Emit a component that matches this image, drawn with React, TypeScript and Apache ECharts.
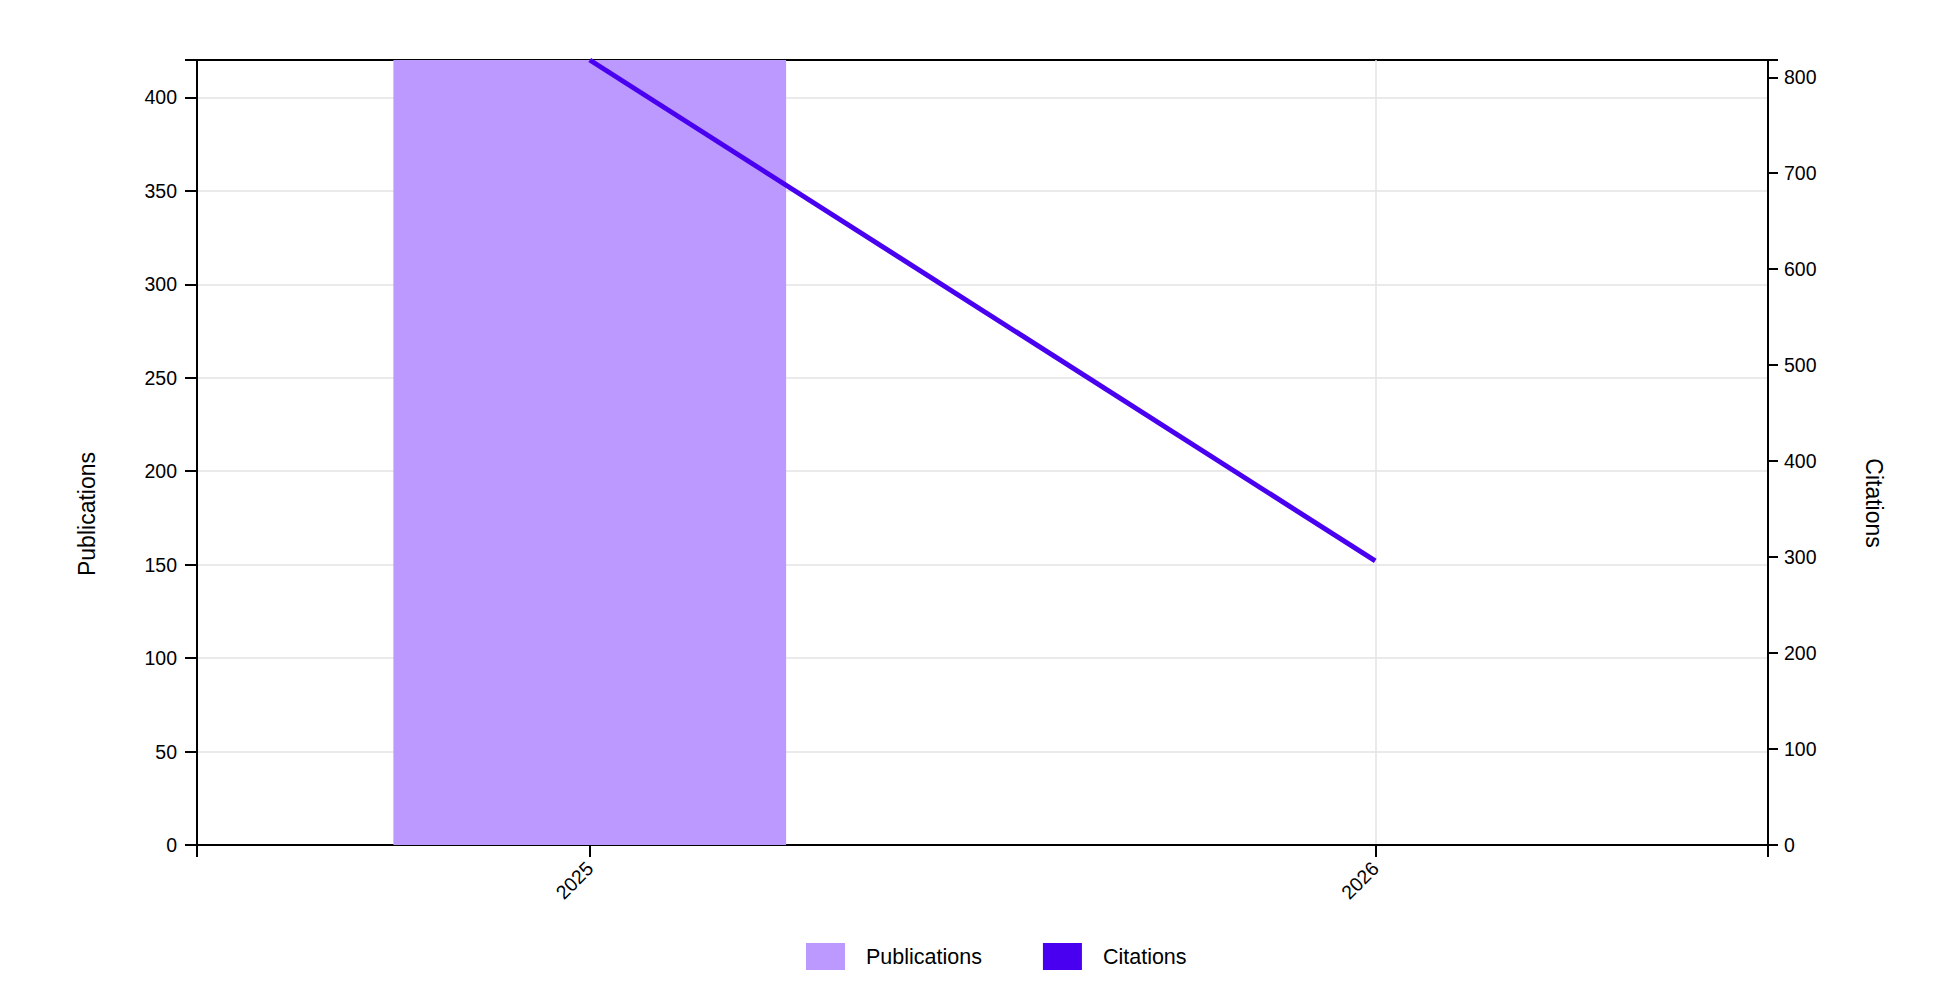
import React, { useEffect, useRef } from "react";
import * as echarts from "echarts";

const years = ["2025", "2026"];
const publications = [420, 0];
const citations = [818, 296];
const pubAxisMax = 420;
const citAxisMax = 818;
const helperSlots = ["", "", "", "", ""];

const PUB_COLOR = "#BB99FF";
const CIT_COLOR = "#4A00F0";
const FONT = "Liberation Sans, Arial, sans-serif";

export default function App() {
  const ref = useRef<HTMLDivElement>(null);
  useEffect(() => {
    if (!ref.current) return;
    const chart = echarts.init(ref.current, undefined, { renderer: "svg" });
    chart.setOption({
      animation: false,
      backgroundColor: "#fff",
      textStyle: { fontFamily: FONT },
      grid: {
        left: 197,
        right: 174,
        top: 60,
        bottom: 137,
        show: true,
        borderColor: "#000",
        borderWidth: 2,
        backgroundColor: "transparent",
      },
      legend: {
        left: 806,
        top: 943,
        padding: 0,
        icon: "rect",
        itemWidth: 39,
        itemHeight: 27,
        itemGap: 61,
        textStyle: { fontSize: 21.5, color: "#000", fontFamily: FONT, padding: [0, 0, 0, 16] },
        data: ["Publications", "Citations"],
      },
      xAxis: [
        {
          type: "category",
          data: years,
          boundaryGap: true,
          axisLine: { show: true, lineStyle: { color: "#000", width: 2 } },
          axisTick: { show: true, alignWithLabel: true, length: 12, lineStyle: { color: "#000", width: 2 } },
          axisLabel: { rotate: 45, margin: 20, fontSize: 19.5, color: "#000", fontFamily: FONT },
          splitLine: { show: false },
        },
        {
          type: "category",
          data: helperSlots,
          boundaryGap: false,
          position: "bottom",
          axisLine: { show: false },
          axisLabel: { show: false },
          axisTick: {
            show: true,
            length: 12,
            interval: (i: number) => i === 0 || i === 4,
            lineStyle: { color: "#000", width: 2 },
          },
          splitLine: {
            show: true,
            interval: (i: number) => i === 1 || i === 3,
            lineStyle: { color: "#e3e3e3", width: 1.5 },
          },
        },
      ],
      yAxis: [
        {
          type: "value",
          min: 0,
          max: pubAxisMax,
          interval: 50,
          position: "left",
          axisLine: { show: true, lineStyle: { color: "#000", width: 2 } },
          axisTick: { show: true, length: 12, lineStyle: { color: "#000", width: 2 } },
          axisLabel: { margin: 20, fontSize: 19.5, color: "#000", fontFamily: FONT, showMaxLabel: false },
          splitLine: { show: true, showMaxLine: false, showMinLine: false, lineStyle: { color: "#e3e3e3", width: 1.5 } },
        },
        {
          type: "value",
          min: 0,
          max: citAxisMax,
          interval: 100,
          position: "right",
          axisLine: { show: true, lineStyle: { color: "#000", width: 2 } },
          axisTick: { show: true, length: 10, lineStyle: { color: "#000", width: 2 } },
          axisLabel: { margin: 16, fontSize: 19.5, color: "#000", fontFamily: FONT, showMaxLabel: false },
          splitLine: { show: false },
        },
        {
          type: "value",
          min: 0,
          max: 1,
          interval: 1,
          position: "left",
          axisLine: { show: false },
          axisTick: { show: true, length: 12, lineStyle: { color: "#000", width: 2 } },
          axisLabel: { show: false },
          splitLine: { show: false },
        },
        {
          type: "value",
          min: 0,
          max: 1,
          interval: 1,
          position: "right",
          axisLine: { show: false },
          axisTick: { show: true, length: 10, lineStyle: { color: "#000", width: 2 } },
          axisLabel: { show: false },
          splitLine: { show: false },
        },
      ],
      graphic: [
        {
          type: "text",
          x: 87,
          y: 514,
          rotation: Math.PI / 2,
          style: {
            text: "Publications",
            fontSize: 23,
            fontFamily: FONT,
            fill: "#000",
            textAlign: "center",
            textVerticalAlign: "middle",
          },
        },
        {
          type: "text",
          x: 1874,
          y: 503,
          rotation: -Math.PI / 2,
          style: {
            text: "Citations",
            fontSize: 23,
            fontFamily: FONT,
            fill: "#000",
            textAlign: "center",
            textVerticalAlign: "middle",
          },
        },
      ],
      series: [
        {
          name: "Publications",
          type: "bar",
          xAxisIndex: 0,
          yAxisIndex: 0,
          data: publications,
          barWidth: "50%",
          itemStyle: { color: PUB_COLOR },
          z: 3,
        },
        {
          name: "Citations",
          type: "line",
          xAxisIndex: 0,
          yAxisIndex: 1,
          data: citations,
          showSymbol: false,
          symbol: "none",
          lineStyle: { color: CIT_COLOR, width: 5 },
          itemStyle: { color: CIT_COLOR },
          z: 4,
        },
      ],
    });
    return () => chart.dispose();
  }, []);
  return <div ref={ref} style={{ position: "fixed", left: 0, top: 0, width: 1942, height: 982 }} />;
}
